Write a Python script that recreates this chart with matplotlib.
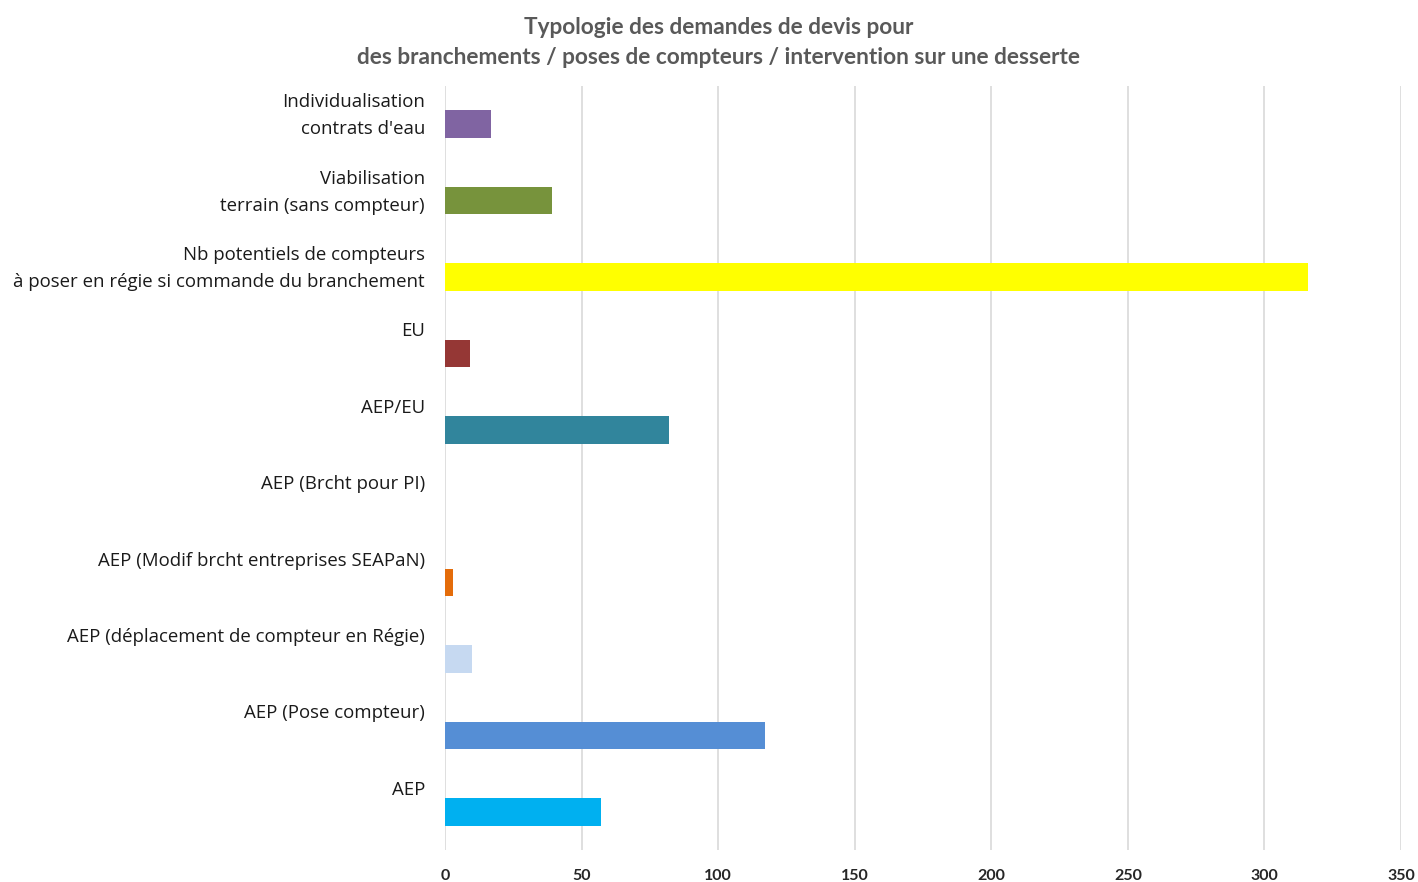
import matplotlib.pyplot as plt
from matplotlib.transforms import offset_copy

# categories from bottom to top
categories = [
    "AEP",
    "AEP (Pose compteur)",
    "AEP (déplacement de compteur en Régie)",
    "AEP (Modif brcht entreprises SEAPaN)",
    "AEP (Brcht pour PI)",
    "AEP/EU",
    "EU",
    "Nb potentiels de compteurs\nà poser en régie si commande du branchement",
    "Viabilisation\nterrain (sans compteur)",
    "Individualisation\ncontrats d'eau",
]
values = [57, 117, 10, 3, 0, 82, 9, 316, 39, 17]
colors = ["#00B0F0", "#558ED5", "#C6D9F1", "#E46C0A", "#F2F2F2",
          "#31859C", "#953735", "#FFFF00", "#77933C", "#8064A2"]

fig = plt.figure(figsize=(14.18, 8.82), dpi=100)
ax = fig.add_axes([445 / 1418, 1 - 850 / 882, (1401 - 445) / 1418, 764 / 882])

pos = range(len(categories))
ax.barh(pos, values, height=0.36, color=colors)

ax.set_xlim(0, 350)
ax.set_ylim(-0.5, len(categories) - 0.5)
ax.set_xticks(range(0, 351, 50))
ax.grid(axis="x", color="#D9D9D9", linewidth=1.2)
ax.set_axisbelow(True)
for s in ax.spines.values():
    s.set_visible(False)
ax.tick_params(axis="both", length=0)
for lab in ax.get_xticklabels():
    lab.set_fontweight("bold")
    lab.set_fontsize(11.5)
    lab.set_fontfamily("Lato")
    lab.set_color("#262626")
ax.tick_params(axis="x", pad=14)

# category labels sit above the bars
ax.set_yticks([])
for p, c in zip(pos, categories):
    tr = offset_copy(ax.transData, fig=fig, x=-20, y=31, units="dots")
    ax.text(0, p, c, transform=tr, ha="right", va="top", fontsize=13.4,
            family="Open Sans", color="#1a1a1a", linespacing=1.66)

fig.text(0.507, 1 - 27 / 882, "Typologie des demandes de devis pour", ha="center",
         va="center", fontsize=16.3, fontweight="bold", family="Lato", color="#595959")
fig.text(0.507, 1 - 57 / 882,
         "des branchements / poses de compteurs / intervention sur une desserte",
         ha="center", va="center", fontsize=16.3, fontweight="bold", family="Lato",
         color="#595959")

fig.savefig("out.png", dpi=100)
